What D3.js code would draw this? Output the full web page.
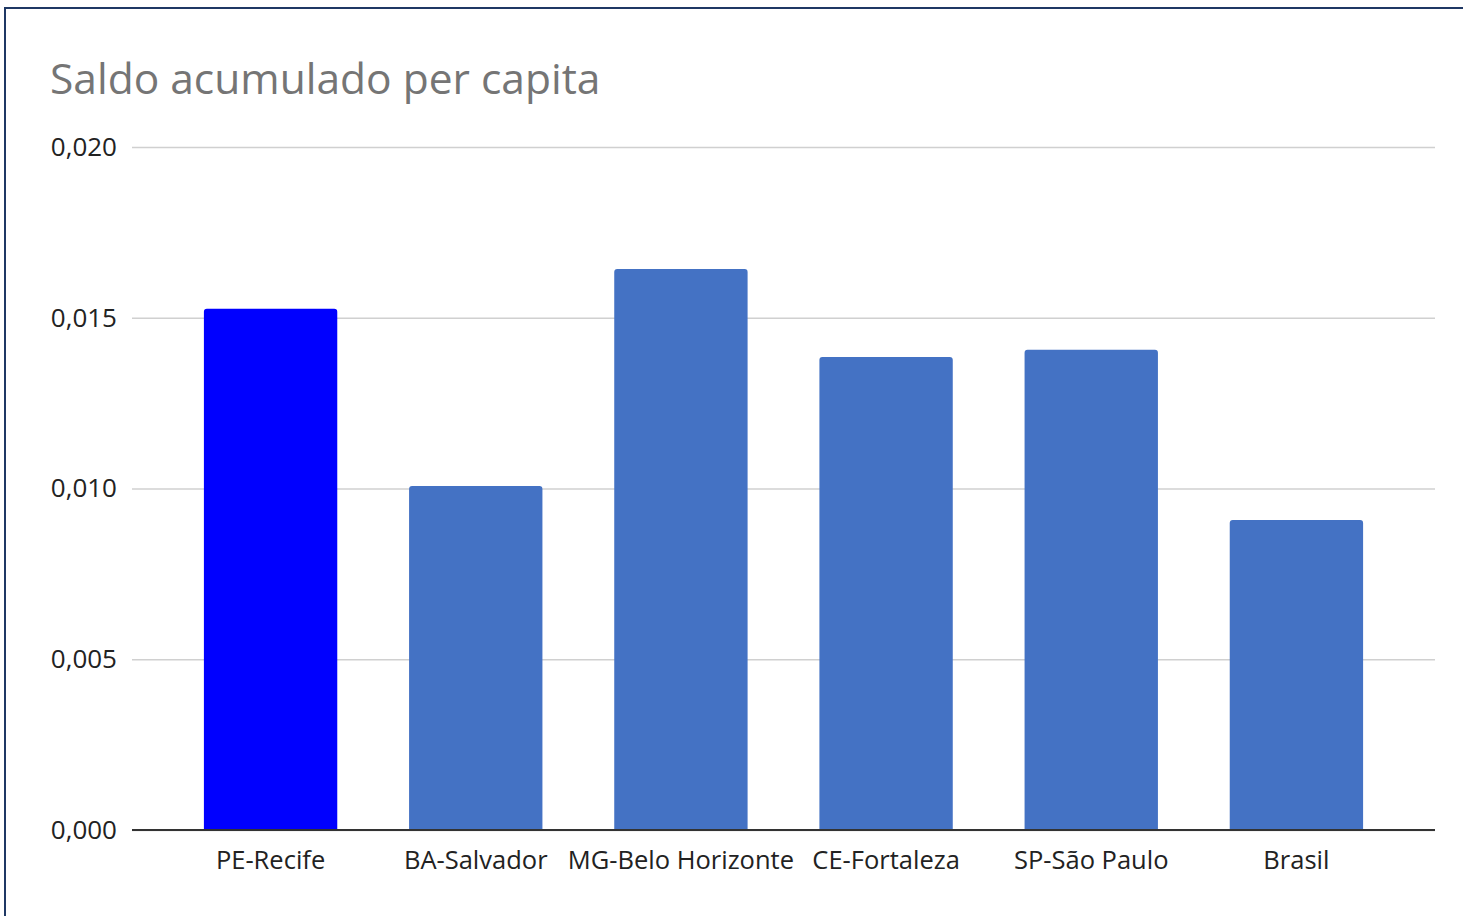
<!DOCTYPE html>
<html><head><meta charset="utf-8">
<script src="https://cdn.jsdelivr.net/npm/d3@7"></script>
<style>html,body{margin:0;padding:0;background:#fff;overflow:hidden}</style>
</head><body>
<svg id="c" width="1463" height="916"></svg>
<script>
const categories = ["PE-Recife","BA-Salvador","MG-Belo Horizonte","CE-Fortaleza","SP-São Paulo","Brasil"];
const values = [0.01526, 0.01007, 0.01643, 0.01385, 0.01406, 0.00908];
const barColors = ["#0000ff","#4472c4","#4472c4","#4472c4","#4472c4","#4472c4"];
const yTicks = [0, 0.005, 0.010, 0.015, 0.020];
const title = "Saldo acumulado per capita";

const svg = d3.select("#c");
const font = "'Open Sans', sans-serif";

// border
svg.append("rect").attr("x",5).attr("y",8).attr("width",1470).attr("height",920)
  .attr("fill","none").attr("stroke","#1f3864").attr("stroke-width",2);

svg.append("text").attr("x",50).attr("y",94).text(title)
  .attr("font-family",font).attr("font-size",42.5).attr("fill","#757575");

const x = d3.scaleBand().domain(categories).range([168,1399]).paddingInner(0.35).paddingOuter(0.175);
const y = d3.scaleLinear().domain([0,0.02]).range([830,147]);

const fmt = d => d3.format(".3f")(d).replace(".", ",");

// grid
const g = svg.append("g").attr("transform","translate(132,0)");
const yAxis = d3.axisLeft(y).tickValues(yTicks).tickSize(-1303).tickFormat(fmt).tickPadding(15);
g.call(yAxis);
g.select(".domain").remove();
g.selectAll(".tick line").attr("stroke","#d0d0d0").attr("stroke-width",1.5);
g.selectAll(".tick text").attr("font-family",font).attr("font-size",26).attr("fill","#222");

// bars
const r = 3;
svg.append("g").selectAll("path").data(categories).join("path")
  .attr("fill",(d,i)=>barColors[i])
  .attr("d",(d,i)=>{
    const x0 = x(d), w = x.bandwidth(), y0 = y(values[i]), y1 = y(0);
    return `M${x0},${y1}V${y0+r}Q${x0},${y0} ${x0+r},${y0}H${x0+w-r}Q${x0+w},${y0} ${x0+w},${y0+r}V${y1}Z`;
  });

// x axis
const xa = svg.append("g").attr("transform","translate(0,830)");
xa.append("line").attr("x1",132).attr("x2",1435).attr("stroke","#333").attr("stroke-width",2);
xa.selectAll("text").data(categories).join("text")
  .attr("x",d=>x(d)+x.bandwidth()/2).attr("y",39).attr("text-anchor","middle")
  .attr("font-family",font).attr("font-size",25.5).attr("fill","#222").text(d=>d);
</script>
</body></html>
